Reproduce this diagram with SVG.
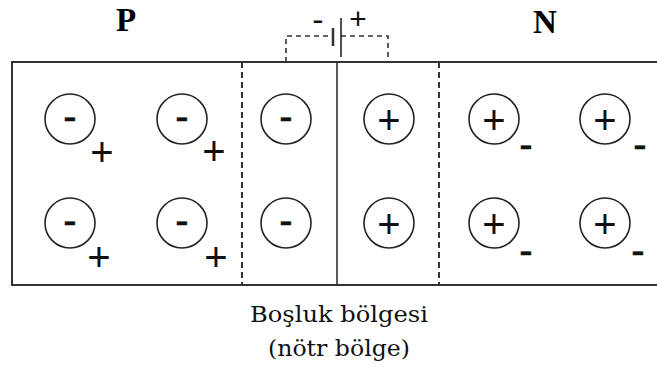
<svg xmlns="http://www.w3.org/2000/svg" width="657" height="371" viewBox="0 0 657 371">
<style>
.box{fill:none;stroke:#333;stroke-width:2}
.dash{fill:none;stroke:#333;stroke-width:2;stroke-dasharray:6 4}
.bdash{fill:none;stroke:#333;stroke-width:1.6;stroke-dasharray:5 4}
.ion{fill:#fff;stroke:#222;stroke-width:1.6}
.sym{font-family:"Liberation Sans",Arial,sans-serif;font-size:40px;fill:#111;text-anchor:middle}
.hy{font-family:"Liberation Sans",Arial,sans-serif;font-size:40px;fill:#111;text-anchor:middle;stroke:#111;stroke-width:0.6}
.lbl{font-family:"Liberation Serif","Times New Roman",serif;font-size:33px;font-weight:bold;fill:#000;text-anchor:middle}
.cap{font-family:"DejaVu Serif",serif;font-size:23px;fill:#111;text-anchor:middle}
</style>
<rect width="657" height="371" fill="#fff"/>
<g id="frame">
<path class="box" d="M657,62 H12 V285 H657"/>
<line x1="337" y1="62" x2="337" y2="285" stroke="#333" stroke-width="1.6"/>
<line class="dash" x1="242" y1="62" x2="242" y2="285"/>
<line class="dash" x1="439" y1="62" x2="439" y2="285"/>
</g>
<g id="battery">
<path class="bdash" d="M286,62 V36 H333"/>
<path class="bdash" d="M341,36 H388 V62"/>
<line x1="333" y1="28" x2="333" y2="46" stroke="#333" stroke-width="2.5"/>
<line x1="341" y1="18" x2="341" y2="57" stroke="#222" stroke-width="1.6"/>
<text class="sym" x="318" y="31" style="font-size:34px">-</text>
<text class="sym" x="358" y="29" style="font-size:30px">+</text>
</g>
<g id="labels">
<text class="lbl" x="126" y="31">P</text>
<text class="lbl" x="545" y="33">N</text>
<text class="cap" x="339" y="322" textLength="178" lengthAdjust="spacingAndGlyphs">Boşluk bölgesi</text>
<text class="cap" x="339" y="356" textLength="142" lengthAdjust="spacingAndGlyphs">(nötr bölge)</text>
</g>
<g id="p-ions">
<circle class="ion" cx="70" cy="119" r="25"/><text class="hy" x="70" y="130">-</text><text class="sym" x="102" y="166">+</text>
<circle class="ion" cx="182" cy="119" r="25"/><text class="hy" x="182" y="130">-</text><text class="sym" x="214" y="165">+</text>
<circle class="ion" cx="70" cy="223" r="25"/><text class="hy" x="70" y="234">-</text><text class="sym" x="99" y="271">+</text>
<circle class="ion" cx="182" cy="223" r="25"/><text class="hy" x="182" y="234">-</text><text class="sym" x="216" y="271">+</text>
</g>
<g id="depletion-neg">
<circle class="ion" cx="286" cy="119" r="25"/><text class="hy" x="286" y="130">-</text>
<circle class="ion" cx="286" cy="223" r="25"/><text class="hy" x="286" y="234">-</text>
</g>
<g id="depletion-pos">
<circle class="ion" cx="389" cy="119" r="25"/><text class="sym" x="389" y="134">+</text>
<circle class="ion" cx="389" cy="223" r="25"/><text class="sym" x="389" y="238">+</text>
</g>
<g id="n-ions">
<circle class="ion" cx="494" cy="119" r="25"/><text class="sym" x="494" y="134">+</text><text class="hy" x="526" y="158">-</text>
<circle class="ion" cx="605" cy="119" r="25"/><text class="sym" x="605" y="134">+</text><text class="hy" x="640" y="158">-</text>
<circle class="ion" cx="494" cy="223" r="25"/><text class="sym" x="494" y="238">+</text><text class="hy" x="526" y="264">-</text>
<circle class="ion" cx="605" cy="223" r="25"/><text class="sym" x="605" y="238">+</text><text class="hy" x="638" y="264">-</text>
</g>
</svg>
